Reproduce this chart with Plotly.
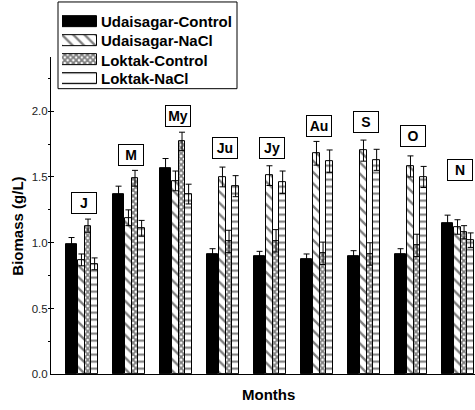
import plotly.graph_objects as go

# ---------------- data ----------------
months = ["J", "M", "My", "Ju", "Jy", "Au", "S", "O", "N"]
series_names = ["Udaisagar-Control", "Udaisagar-NaCl", "Loktak-Control", "Loktak-NaCl"]

udaisagar_control = [0.99, 1.37, 1.57, 0.91, 0.895, 0.875, 0.895, 0.915, 1.15]
udaisagar_control_err = [0.05, 0.06, 0.07, 0.045, 0.04, 0.04, 0.045, 0.04, 0.06]
udaisagar_nacl = [0.87, 1.19, 1.47, 1.50, 1.51, 1.68, 1.70, 1.58, 1.12]
udaisagar_nacl_err = [0.045, 0.06, 0.075, 0.075, 0.075, 0.09, 0.08, 0.08, 0.055]
loktak_control = [1.13, 1.49, 1.77, 1.01, 1.015, 0.92, 0.915, 0.98, 1.08]
loktak_control_err = [0.05, 0.06, 0.07, 0.085, 0.085, 0.085, 0.085, 0.085, 0.05]
loktak_nacl = [0.84, 1.11, 1.37, 1.43, 1.46, 1.62, 1.63, 1.50, 1.02]
loktak_nacl_err = [0.045, 0.06, 0.075, 0.08, 0.085, 0.085, 0.08, 0.08, 0.055]

# heights (in data units) at which the month boxes are written
label_heights = [1.30, 1.67, 1.96, 1.72, 1.72, 1.89, 1.92, 1.81, 1.55]

values = [udaisagar_control, udaisagar_nacl, loktak_control, loktak_nacl]
errors = [udaisagar_control_err, udaisagar_nacl_err, loktak_control_err, loktak_nacl_err]

# ---------------- styles ----------------
FONT = "Liberation Sans, Arial, sans-serif"
styles = [
    dict(offset=-0.340, width=0.234, color="black",
         pattern=dict(shape="")),
    dict(offset=-0.085, width=0.145, color="white",
         pattern=dict(shape="\\", size=8, solidity=0.3, fgcolor="black", bgcolor="white")),
    dict(offset=0.060, width=0.135, color="white",
         pattern=dict(shape="x", size=4, solidity=0.7, fgcolor="black", bgcolor="white")),
    dict(offset=0.195, width=0.145, color="white",
         pattern=dict(shape="-", size=7, solidity=0.3, fgcolor="black", bgcolor="white")),
]
legend_patterns = [
    dict(shape=""),
    dict(shape="\\", size=8, solidity=0.3, fgcolor="black", bgcolor="white"),
    dict(shape="x", size=4, solidity=0.7, fgcolor="black", bgcolor="white"),
    dict(shape="-", size=11, solidity=0.18, fgcolor="black", bgcolor="white"),
]

W, H = 475, 410
PL, PR, PT, PB = 51, 475, 58, 380  # plot area in pixels


def px_x(p):
    return p / W


def px_y(p):
    return (H - p) / H


fig = go.Figure()

for name, vals, errs, st in zip(series_names, values, errors, styles):
    fig.add_trace(go.Bar(
        x=months, y=vals, name=name,
        offset=st["offset"], width=st["width"],
        marker=dict(color=st["color"], line=dict(color="black", width=1),
                    pattern=st["pattern"]),
        error_y=dict(type="data", array=errs, visible=True, color="black",
                     thickness=1, width=3),
        showlegend=False,
        xaxis="x", yaxis="y",
    ))

# legend swatches drawn as small bars on a separate axis pair
for name, st, lp in zip(series_names, styles, legend_patterns):
    fig.add_trace(go.Bar(
        y=[name], x=[1], orientation="h", width=0.58,
        marker=dict(color=st["color"], line=dict(color="black", width=1), pattern=lp),
        showlegend=False, hoverinfo="skip",
        xaxis="x2", yaxis="y2",
    ))

annotations = []
for m, h in zip(months, label_heights):
    annotations.append(dict(
        x=m, y=h, xref="x", yref="y", text="<b>%s</b>" % m, showarrow=False,
        font=dict(family=FONT, size=14, color="black"),
        bordercolor="black", borderwidth=1, borderpad=2, bgcolor="white",
        width=20, xshift=2,
    ))

row_centers = [22, 41.5, 61, 80]
for name, rc in zip(series_names, row_centers):
    annotations.append(dict(
        x=px_x(99), y=px_y(rc), xref="paper", yref="paper", xanchor="left", yanchor="middle",
        text="<b>%s</b>" % name, showarrow=False,
        font=dict(family=FONT, size=15, color="black"),
    ))

annotations.append(dict(
    x=px_x(18), y=px_y(230), xref="paper", yref="paper", text="<b>Biomass (g/L)</b>",
    textangle=-90, showarrow=False, font=dict(family=FONT, size=15, color="black"),
    xanchor="center", yanchor="middle",
))
annotations.append(dict(
    x=px_x(268), y=px_y(400), xref="paper", yref="paper", text="<b>Months</b>",
    showarrow=False, font=dict(family=FONT, size=15, color="black"),
    xanchor="center", yanchor="middle",
))

fig.update_layout(
    width=W, height=H,
    margin=dict(l=0, r=0, t=0, b=0),
    paper_bgcolor="white", plot_bgcolor="white",
    barmode="overlay",
    bargap=0,
    font=dict(family=FONT, color="black"),
    xaxis=dict(
        type="category", domain=[px_x(PL), px_x(PR)], range=[-0.66, 8.36],
        showline=True, linecolor="black", linewidth=1, showticklabels=False,
        ticks="", showgrid=False, zeroline=False, anchor="y",
    ),
    yaxis=dict(
        domain=[px_y(PB), px_y(PT)], range=[0, 2.41],
        showline=True, linecolor="black", linewidth=1,
        tickmode="linear", tick0=0, dtick=0.5, tickformat=".1f",
        ticks="inside", ticklen=3, tickcolor="black",
        minor=dict(dtick=0.25, ticks="outside", ticklen=2, tickcolor="black"),
        tickfont=dict(family=FONT, size=11.5, color="#222"),
        showgrid=False, zeroline=False, anchor="x",
    ),
    xaxis2=dict(domain=[px_x(62), px_x(97)], range=[0, 1], visible=False,
                anchor="y2", fixedrange=True),
    yaxis2=dict(domain=[px_y(89.67), px_y(12.33)], range=[3.5, -0.5],
                type="category", categoryorder="array", categoryarray=series_names,
                visible=False, anchor="x2", fixedrange=True),
    shapes=[dict(type="rect", xref="paper", yref="paper",
                 x0=px_x(58), x1=px_x(237), y0=px_y(90), y1=px_y(2),
                 line=dict(color="black", width=1), fillcolor="rgba(0,0,0,0)")],
    annotations=annotations,
)

fig.write_html("out.html")
